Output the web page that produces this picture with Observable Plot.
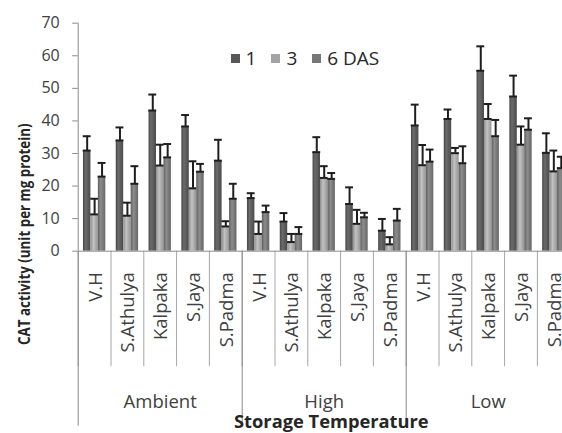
<!DOCTYPE html>
<html><head><meta charset="utf-8">
<script src="https://cdn.jsdelivr.net/npm/d3@7"></script>
<script src="https://cdn.jsdelivr.net/npm/@observablehq/plot@0.6"></script>
<style>
html,body{margin:0;padding:0;background:#fff;overflow:hidden}
#wrap{position:relative;width:562px;height:433px;font-family:"Open Sans",sans-serif}
#legend{position:absolute;left:230.5px;top:46px;display:flex;align-items:center;font-size:19px;color:#262626;line-height:24px}
#legend .item{display:flex;align-items:center;margin-right:15px}
#legend .sw{width:9px;height:9px;margin-right:6px}
</style></head><body><div id="wrap"><div id="legend"></div></div>
<script>
const groups = ["Ambient", "High", "Low"];
const cultivars = ["V.H", "S.Athulya", "Kalpaka", "S.Jaya", "S.Padma"];
const series = ["1", "3", "6 DAS"];
const day1 = [30.9, 34.0, 43.2, 38.3, 27.8, 16.3, 9.1, 30.4, 14.5, 6.3, 38.6, 40.6, 55.4, 47.5, 30.2];
const day1Err = [4.4, 4.0, 4.9, 3.5, 6.4, 1.5, 2.6, 4.6, 5.1, 3.6, 6.4, 2.9, 7.5, 6.4, 6.0];
const day3 = [11.3, 10.9, 26.3, 19.3, 7.6, 5.3, 2.8, 22.5, 8.4, 2.1, 26.4, 30.1, 40.6, 32.7, 24.5];
const day3Err = [4.8, 4.0, 6.4, 8.3, 1.6, 3.8, 2.5, 3.6, 4.3, 2.2, 6.2, 1.6, 4.6, 5.6, 6.4];
const day6 = [22.9, 20.7, 28.8, 24.4, 16.1, 12.0, 5.3, 22.2, 10.4, 9.4, 27.5, 27.0, 35.3, 37.3, 25.5];
const day6Err = [4.2, 5.4, 4.1, 2.4, 4.6, 2.0, 2.1, 1.8, 1.4, 3.6, 3.7, 5.2, 5.0, 3.5, 3.5];
const yTicks = [0, 10, 20, 30, 40, 50, 60, 70];
const yTitle = "CAT activity (unit per mg protein)";
const xTitle = "Storage Temperature";

const values = [day1, day3, day6];
const errors = [day1Err, day3Err, day6Err];
const gradStops = [
  [["0", "#474747"], ["0.35", "#6b6b6b"], ["1", "#4a4a4a"]],
  [["0", "#8e8e8e"], ["0.4", "#c2c2c2"], ["1", "#959595"]],
  [["0", "#606060"], ["0.4", "#8c8c8c"], ["1", "#666666"]]
];
const swatch = ["#585858", "#a3a3a3", "#777777"];

const rows = d3.range(groups.length * cultivars.length).map(i => ({
  i, group: groups[Math.floor(i / cultivars.length)], cultivar: cultivars[i % cultivars.length]
}));
const groupRows = groups.map((g, k) => ({g, mid: k * cultivars.length + cultivars.length / 2}));

const OFF = 0.16, W = 0.227, CAP = 0.12;
const marks = [];
series.forEach((s, si) => {
  const data = rows.map(r => ({...r, v: values[si][r.i], e: errors[si][r.i]}));
  const x1 = d => d.i + OFF + si * W;
  const c = d => d.i + OFF + si * W + W / 2;
  marks.push(Plot.rectY(data, {x1, x2: d => x1(d) + W, y: "v", fill: `url(#grad${si})`}));
  marks.push(Plot.ruleX(data, {x: c, y1: "v", y2: d => d.v + d.e, stroke: "#1e1e1e", strokeWidth: 2}));
  marks.push(Plot.ruleY(data, {y: "v", x1: d => c(d) - CAP, x2: d => c(d) + CAP, stroke: "#1e1e1e", strokeWidth: 2}));
  marks.push(Plot.ruleY(data, {y: d => d.v + d.e, x1: d => c(d) - CAP, x2: d => c(d) + CAP, stroke: "#1e1e1e", strokeWidth: 2}));
});

const plot = Plot.plot({
  width: 562,
  height: 433,
  marginLeft: 77.7,
  marginRight: 0,
  marginTop: 22.7,
  marginBottom: 182.3,
  style: {fontFamily: "Open Sans", fontSize: "16px", color: "#404040", background: "transparent"},
  x: {type: "linear", domain: [0, 15], range: [77.7, 569.7]},
  y: {domain: [0, 70]},
  marks: [
    Plot.axisY({ticks: yTicks, tickSize: 5.5, tickPadding: 13, stroke: "#8c8c8c", fill: "#404040", fontSize: 16, label: null}),
    Plot.axisX({ticks: d3.range(0, 16), tickSize: 115.5, tickFormat: () => "", stroke: "#a6a6a6", label: null}),
    Plot.axisX({ticks: [0, 5, 10, 15], tickSize: 175, tickFormat: () => "", stroke: "#8c8c8c", label: null}),
    ...marks,
    Plot.ruleX([0], {stroke: "#8c8c8c"}),
    Plot.ruleY([0], {stroke: "#8c8c8c"}),
    Plot.text(rows, {x: d => d.i + 0.5, text: "cultivar", frameAnchor: "bottom", rotate: -90, textAnchor: "end", lineAnchor: "middle", dy: 21, dx: 1, fontSize: 18.5, fill: "#404040"}),
    Plot.text(groupRows, {x: "mid", text: "g", frameAnchor: "bottom", lineAnchor: "middle", dy: 151, fontSize: 18.5, fill: "#404040"}),
    Plot.text([xTitle], {frameAnchor: "bottom", lineAnchor: "middle", dx: 11, dy: 170.5, fontSize: 18.3, fontWeight: "bold", fill: "#262626"}),
    Plot.text([yTitle], {frameAnchor: "left", rotate: -90, textAnchor: "middle", lineAnchor: "middle", dx: -53.5, dy: 97, fontSize: 16.3, fontWeight: "bold", fill: "#262626"})
  ]
});

const defs = d3.create("svg:defs");
gradStops.forEach((stops, si) => {
  const g = defs.append("linearGradient").attr("id", `grad${si}`).attr("x1", 0).attr("x2", 1).attr("y1", 0).attr("y2", 0);
  stops.forEach(([o, c]) => g.append("stop").attr("offset", o).attr("stop-color", c));
});
plot.insertBefore(defs.node(), plot.firstChild);
// the reference title uses a narrow face: condense it along its length
d3.select(plot).selectAll("text").filter(function () { return this.textContent === yTitle; })
  .each(function () {
    const t = this.getAttribute("transform") || "";
    this.setAttribute("transform", t + " scale(0.82,1)");
  });

const wrap = document.getElementById("wrap");
wrap.insertBefore(plot, wrap.firstChild);
const legend = d3.select("#legend");
series.forEach((s, si) => {
  const it = legend.append("div").attr("class", "item");
  it.append("div").attr("class", "sw").style("background", swatch[si]);
  it.append("span").text(s);
});
</script></body></html>
